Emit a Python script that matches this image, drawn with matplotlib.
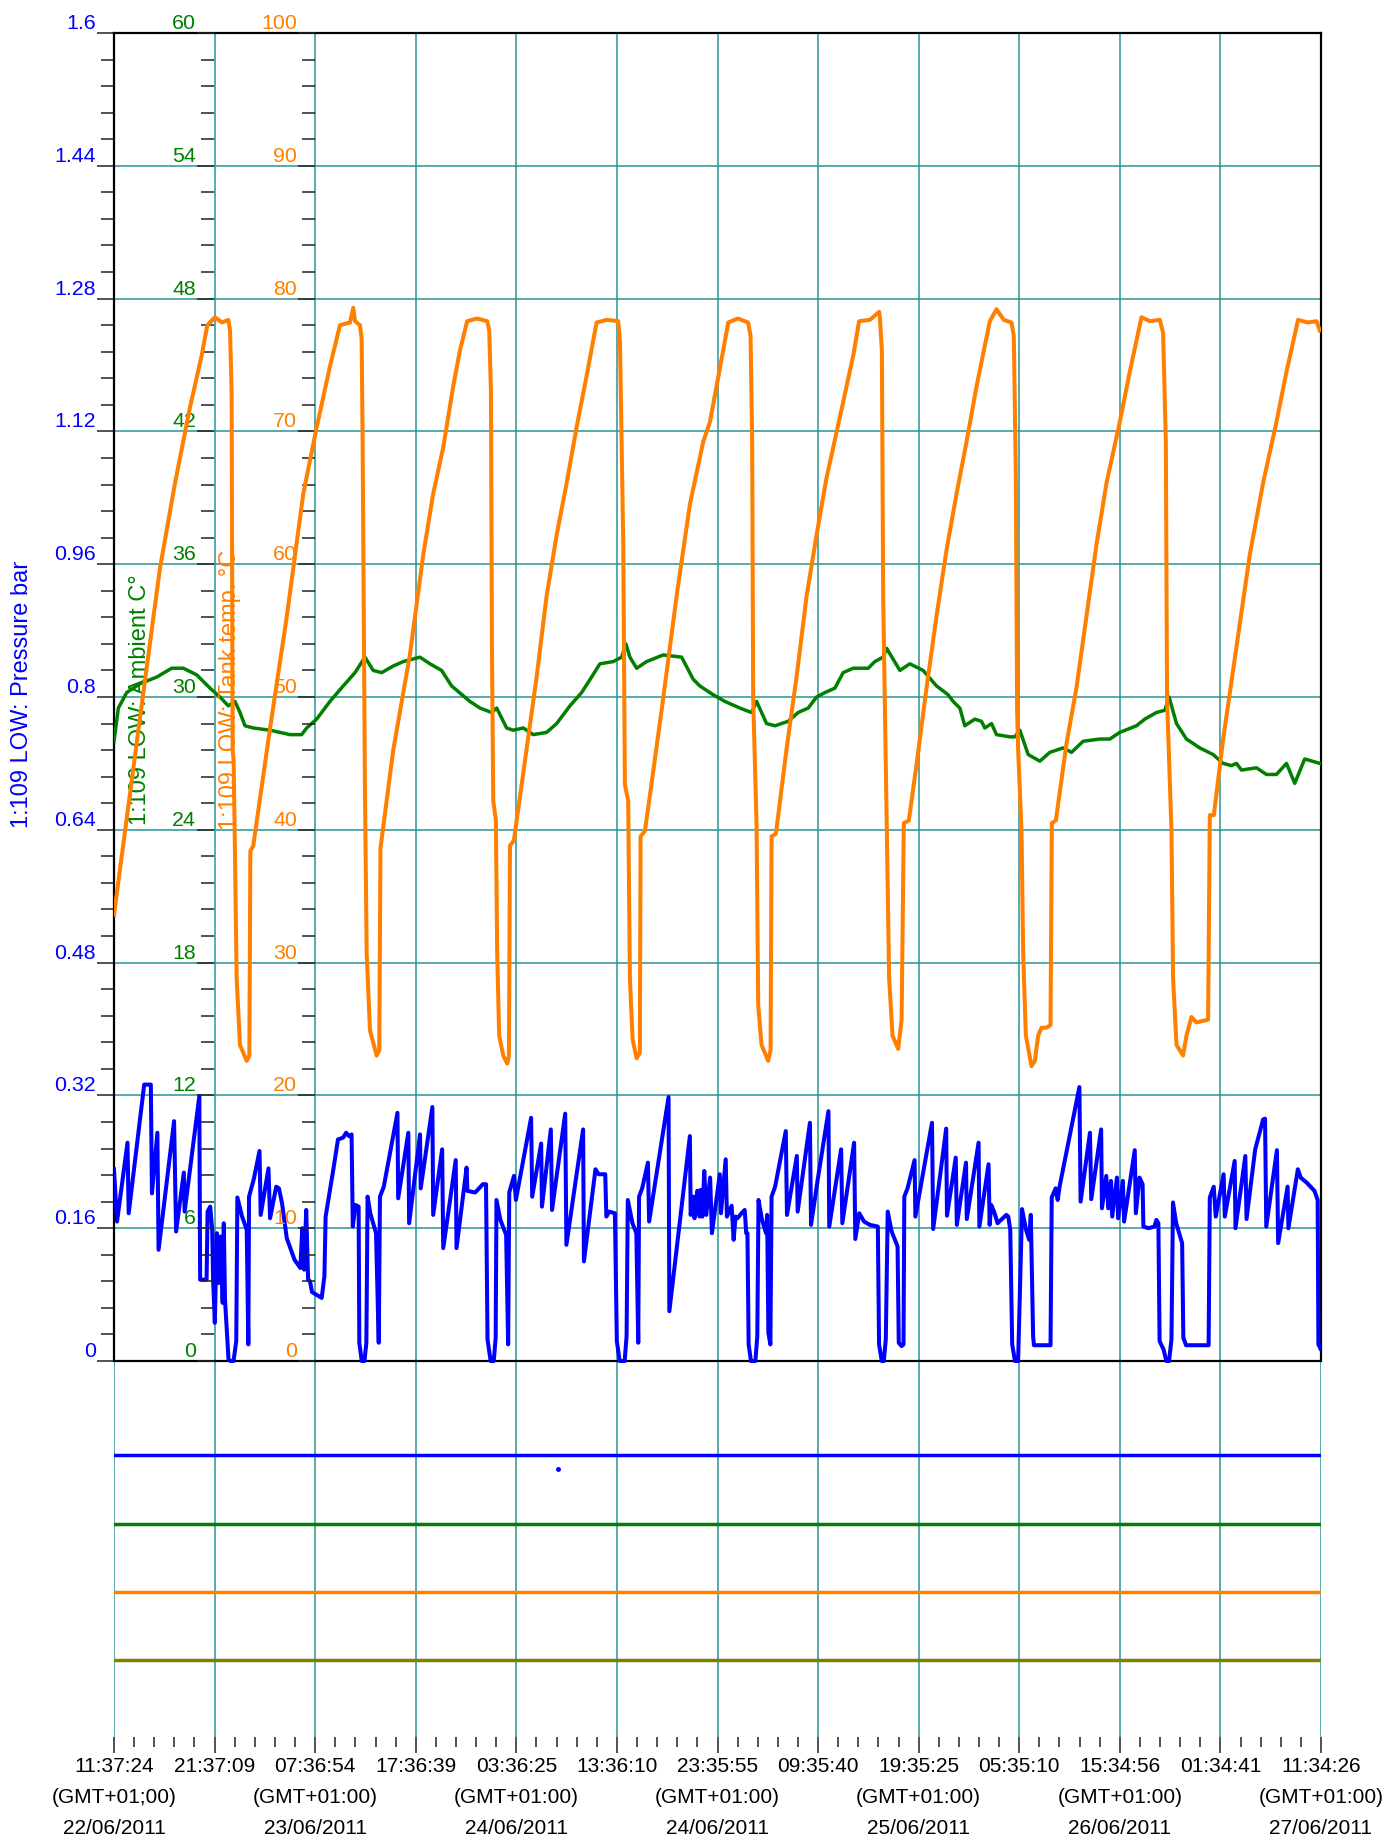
import matplotlib
matplotlib.use('Agg')
import matplotlib.pyplot as plt
from matplotlib.ticker import FixedLocator, MultipleLocator

plt.rcParams['font.family'] = ['Liberation Sans', 'DejaVu Sans']

# ---------------- data (time in hours since 22/06/2011 11:37:24) ----------------
pressure_t = [
    0.00, 0.30, 1.34, 1.46, 3.00, 3.66, 3.77, 4.31, 4.43, 5.97, 6.17, 6.94, 7.02, 8.48, 8.56, 9.20, 9.30, 9.56, 9.76, 9.85, 10.02, 10.22, 10.41, 10.60, 10.80, 10.91, 11.03, 11.38, 11.57, 11.88, 12.15, 12.26,
    12.73, 13.19, 13.35, 13.42, 13.89, 14.46, 14.58, 15.35, 15.51, 16.12, 16.39, 16.70, 17.17, 17.94, 18.52, 18.71, 18.90, 19.10, 19.29, 19.48, 19.68, 20.64, 20.91, 21.03, 21.80, 22.26, 22.76, 23.07, 23.34, 23.61, 23.73, 24.00, 24.31,
    24.38, 24.62, 24.89, 25.08, 25.20, 25.47, 26.04, 26.31, 26.43, 26.81, 28.17, 28.24, 29.25, 29.33, 30.41, 30.48, 31.64, 31.72, 32.61, 32.72, 33.96, 34.04, 35.04, 35.12, 35.89, 36.66, 36.97, 37.12,
    37.43, 37.74, 37.93, 38.01, 38.40, 38.97, 39.17, 39.28, 39.75, 39.94, 41.45, 41.56, 42.45, 42.53, 43.41, 43.53, 44.84, 44.96, 46.62, 46.70, 47.85, 48.16, 48.82, 48.93, 49.20, 49.78, 49.97,
    50.25, 50.75, 50.94, 51.06, 51.52, 51.91, 52.10, 52.18, 52.49, 53.06, 53.18, 55.11, 55.19, 57.23, 57.31, 57.58, 57.69, 57.96, 58.20, 58.28, 58.47, 58.66, 58.86, 59.24,
    59.42, 60.20, 60.32, 60.79, 60.91, 61.38, 61.58, 61.77, 61.97, 62.36, 62.68, 62.83, 62.95, 63.07, 63.30, 63.74, 63.93, 64.05, 64.40, 64.80, 64.91, 65.03, 65.23, 65.35, 65.70, 66.76, 66.88, 67.86, 67.94, 69.16, 69.27, 69.94, 71.00, 71.08,
    72.26, 72.38, 73.55, 73.67, 74.06, 74.54, 75.12, 75.91, 76.03, 76.30, 76.50, 76.70, 76.89, 77.28, 77.87, 77.99, 78.27, 78.46, 78.54, 78.86, 79.56, 79.64, 81.29, 81.41, 82.70, 82.78, 83.65, 83.76, 84.67, 84.75, 85.92, 86.00,
    86.91, 87.02, 87.18, 87.49, 87.81, 88.67, 88.87, 89.07, 89.26, 89.54, 89.85, 90.24, 90.64, 90.95, 91.11, 91.34, 91.42, 93.07, 93.19, 93.58, 93.78, 93.97, 95.94, 96.06, 96.99, 97.12, 98.10, 98.18, 98.61, 98.81, 99.08, 99.20, 99.67, 99.79,
    100.26, 100.38, 101.44, 101.55, 101.91, 102.22, 102.30, 102.81, 103.40, 103.59, 103.79, 103.91, 104.30, 104.58, 104.85, 105.09, 105.24, 105.56, 106.15, 106.27, 106.54, 108.78, 108.90, 109.29, 109.49, 110.27, 110.39, 111.37, 111.45, 112.43, 112.55, 113.41, 114.20, 114.39, 114.51, 115.57, 115.69, 116.63, 116.71, 117.65, 117.93, 118.52, 119.30, 119.62, 119.69, 119.89,
]
pressure_bar = [
    0.231, 0.168, 0.263, 0.178, 0.333, 0.333, 0.202, 0.275, 0.134, 0.289, 0.156, 0.227, 0.180, 0.319, 0.098, 0.098, 0.180, 0.186, 0.158, 0.098, 0.046, 0.154, 0.094, 0.150, 0.070, 0.166, 0.074, 0.002, 0.0, 0.0, 0.024, 0.197,
    0.174, 0.158, 0.020, 0.198, 0.219, 0.253, 0.176, 0.232, 0.172, 0.210, 0.208, 0.190, 0.148, 0.122, 0.112, 0.160, 0.110, 0.182, 0.098, 0.096, 0.083, 0.076, 0.102, 0.174, 0.231, 0.267, 0.269, 0.275, 0.271, 0.273, 0.162, 0.188, 0.186,
    0.022, 0.0, 0.0, 0.022, 0.198, 0.178, 0.154, 0.022, 0.198, 0.210, 0.299, 0.196, 0.275, 0.166, 0.273, 0.208, 0.306, 0.176, 0.255, 0.136, 0.242, 0.136, 0.233, 0.205, 0.203, 0.213, 0.213, 0.026,
    0.0, 0.0, 0.028, 0.194, 0.170, 0.152, 0.020, 0.203, 0.223, 0.194, 0.293, 0.198, 0.262, 0.186, 0.279, 0.182, 0.298, 0.140, 0.279, 0.120, 0.231, 0.225, 0.225, 0.174, 0.180, 0.178, 0.024,
    0.0, 0.0, 0.030, 0.194, 0.166, 0.154, 0.022, 0.198, 0.208, 0.239, 0.168, 0.318, 0.060, 0.271, 0.176, 0.198, 0.172, 0.205, 0.174, 0.206, 0.174, 0.229, 0.176, 0.221,
    0.154, 0.225, 0.178, 0.243, 0.174, 0.187, 0.146, 0.174, 0.172, 0.178, 0.182, 0.154, 0.154, 0.020, 0.0, 0.0, 0.030, 0.194, 0.170, 0.154, 0.176, 0.034, 0.020, 0.198, 0.210, 0.277, 0.176, 0.247, 0.180, 0.287, 0.164, 0.219, 0.301, 0.162,
    0.255, 0.166, 0.263, 0.147, 0.178, 0.168, 0.164, 0.162, 0.020, 0.0, 0.0, 0.026, 0.180, 0.156, 0.138, 0.022, 0.018, 0.020, 0.198, 0.208, 0.242, 0.174, 0.287, 0.159, 0.280, 0.175, 0.245, 0.164, 0.239, 0.171, 0.263, 0.162,
    0.237, 0.164, 0.188, 0.179, 0.166, 0.176, 0.174, 0.158, 0.020, 0.0, 0.0, 0.183, 0.158, 0.146, 0.176, 0.030, 0.019, 0.019, 0.197, 0.208, 0.194, 0.210, 0.330, 0.192, 0.275, 0.195, 0.279, 0.184, 0.223, 0.184, 0.217, 0.174, 0.221, 0.172,
    0.217, 0.168, 0.254, 0.178, 0.221, 0.213, 0.162, 0.160, 0.162, 0.170, 0.166, 0.024, 0.014, 0.0, 0.0, 0.026, 0.191, 0.166, 0.142, 0.028, 0.019, 0.019, 0.197, 0.210, 0.174, 0.225, 0.174, 0.241, 0.160, 0.247, 0.171, 0.255, 0.291, 0.292, 0.162, 0.254, 0.142, 0.210, 0.160, 0.231, 0.221, 0.215, 0.205, 0.194, 0.020, 0.015,
]

ambient_t = [
    0.00, 0.43, 1.26, 2.58, 4.24, 5.73, 6.89, 8.22, 9.54, 10.53, 11.36, 12.02, 12.52, 13.02, 13.84, 15.50, 17.49, 18.65, 19.15, 20.14, 21.46, 22.78, 23.95, 24.94, 25.76, 26.60, 27.75, 28.74, 30.40,
    31.40, 32.56, 33.55, 35.37, 36.37, 37.53, 38.03, 39.02, 39.67, 40.67, 41.66, 42.99, 43.99, 45.31, 46.47, 47.46, 48.29, 49.61, 50.45, 50.87, 51.27, 51.94, 52.93, 54.58, 56.41, 57.56, 58.22, 59.55,
    60.71, 62.20, 63.36, 63.86, 64.85, 65.68, 67.00, 67.99, 68.99, 69.82, 70.65, 71.64, 72.46, 73.46, 74.95, 75.61, 76.44, 76.78, 78.10, 79.09, 80.41, 81.74, 82.90, 83.39, 84.06, 84.55, 85.55, 86.21, 86.54, 87.21, 87.70, 89.03,
    89.52, 90.02, 90.85, 92.01, 93.00, 94.33, 95.16, 96.31, 97.97, 98.96, 99.95, 101.61, 102.44, 103.60, 104.43, 104.85, 105.59, 106.58, 107.90, 109.23, 110.22, 111.05, 111.55, 112.05, 113.54, 114.53, 115.52, 116.52, 117.34, 118.33, 119.83,
]
ambient_c = [
    28.0, 29.5, 30.2, 30.6, 30.9, 31.3, 31.3, 31.0, 30.4, 30.0, 29.6, 29.8, 29.3, 28.7, 28.6, 28.5, 28.3, 28.3, 28.6, 29.0, 29.8, 30.5, 31.1, 31.8, 31.2, 31.1, 31.4, 31.6, 31.8,
    31.5, 31.2, 30.5, 29.8, 29.5, 29.3, 29.5, 28.6, 28.5, 28.6, 28.3, 28.4, 28.8, 29.6, 30.2, 30.9, 31.5, 31.6, 31.8, 32.4, 31.8, 31.3, 31.6, 31.9, 31.8, 30.8, 30.5, 30.1,
    29.8, 29.5, 29.3, 29.8, 28.8, 28.7, 28.9, 29.3, 29.5, 30.0, 30.2, 30.4, 31.1, 31.3, 31.3, 31.6, 31.8, 32.2, 31.2, 31.5, 31.2, 30.5, 30.1, 29.8, 29.5, 28.7, 29.0, 28.9, 28.6, 28.8, 28.3, 28.2,
    28.2, 28.5, 27.4, 27.1, 27.5, 27.7, 27.5, 28.0, 28.1, 28.1, 28.4, 28.7, 29.0, 29.3, 29.4, 30.0, 28.8, 28.1, 27.7, 27.4, 27.0, 26.9, 27.0, 26.7, 26.8, 26.5, 26.5, 27.0, 26.1, 27.2, 27.0,
]

tank_t = [
    0.00, 2.91, 4.57, 6.06, 7.55, 8.71, 9.27, 10.04, 10.73, 11.36, 11.53, 11.69, 11.79, 11.89, 12.02, 12.19, 12.52, 13.19, 13.45, 13.55, 13.84,
    15.50, 17.16, 18.81, 20.14, 21.46, 22.46, 23.45, 23.78, 23.95, 24.44, 24.61, 24.71, 24.94, 25.11, 25.44, 26.10, 26.36, 26.48,
    27.75, 29.41, 30.73, 31.72, 32.72, 33.71, 34.38, 35.10, 36.07, 37.09, 37.29, 37.46, 37.56, 37.69, 37.95, 38.08, 38.28, 38.68, 39.08, 39.25, 39.35, 39.74,
    41.01, 42.00, 42.99, 43.99, 44.98, 45.97, 46.97, 47.96, 48.98, 50.11, 50.28, 50.61, 50.77, 51.10, 51.27, 51.54, 51.94, 52.26, 52.33, 52.76,
    53.26, 54.58, 55.91, 57.23, 58.55, 59.22, 60.54, 61.04, 62.00, 63.02, 63.26, 63.42, 63.52, 63.86, 64.02, 64.35, 65.01, 65.25, 65.35, 65.78,
    66.84, 67.83, 68.83, 69.82, 70.81, 72.46, 73.46, 74.05, 75.12, 76.04, 76.11, 76.31, 76.44, 76.78, 77.03, 77.37, 77.93, 78.27, 78.49, 78.99,
    79.75, 80.75, 81.74, 82.74, 83.73, 84.72, 85.72, 87.04, 87.70, 88.43, 89.19, 89.42, 89.62, 89.75, 89.85, 90.19, 90.35, 90.62, 91.18, 91.51, 91.84, 92.18, 92.67, 93.07, 93.20, 93.60,
    94.66, 95.65, 96.65, 97.64, 98.63, 99.95, 100.95, 102.11, 102.94, 103.93, 104.26, 104.53, 104.65, 105.09, 105.25, 105.59, 106.24, 106.58, 107.08, 107.57, 108.73, 108.90, 109.30,
    110.22, 111.55, 112.87, 114.19, 115.52, 116.52, 117.67, 118.63, 119.50, 119.83,
]
tank_c = [
    33.6, 50.3, 59.7, 66.1, 71.8, 75.7, 78.0, 78.6, 78.2, 78.4, 77.6, 73.0, 46.0, 45.2, 38.4, 28.8, 23.8, 22.6, 23.0, 38.4, 38.8,
    47.6, 56.0, 65.3, 70.3, 74.9, 78.0, 78.2, 79.3, 78.3, 78.0, 77.0, 69.0, 43.0, 30.7, 24.9, 23.0, 23.4, 38.6,
    46.0, 53.2, 60.7, 65.3, 68.8, 73.4, 76.1, 78.3, 78.5, 78.3, 77.6, 73.0, 53.8, 42.2, 40.7, 30.7, 24.5, 23.0, 22.4, 23.0, 38.8, 39.2,
    46.1, 51.5, 57.6, 62.2, 66.1, 70.3, 74.2, 78.2, 78.4, 78.3, 76.8, 61.5, 43.4, 42.2, 28.8, 24.2, 22.8, 23.2, 39.5, 39.9,
    42.6, 49.9, 57.6, 64.5, 69.2, 70.7, 76.1, 78.2, 78.5, 78.2, 77.2, 69.2, 49.9, 40.3, 26.8, 23.8, 22.6, 23.4, 39.5, 39.7,
    46.1, 51.5, 57.6, 62.2, 66.5, 72.2, 75.7, 78.3, 78.4, 79.0, 78.6, 76.1, 57.6, 41.0, 28.8, 24.5, 23.5, 25.7, 40.5, 40.7,
    44.9, 50.7, 56.1, 61.1, 65.3, 69.2, 73.4, 78.3, 79.2, 78.4, 78.2, 77.2, 67.0, 49.0, 46.1, 39.9, 30.7, 24.5, 22.2, 22.6, 24.5, 25.1, 25.1, 25.3, 40.5, 40.7,
    46.5, 50.7, 56.1, 61.5, 66.1, 70.7, 74.5, 78.6, 78.3, 78.4, 77.4, 69.2, 49.9, 39.9, 28.8, 23.8, 23.0, 24.5, 25.9, 25.5, 25.7, 41.1, 41.1,
    46.8, 53.8, 60.7, 66.1, 70.7, 74.5, 78.4, 78.2, 78.3, 77.6,
]

# digital channel lanes below the analogue area (pressure-axis units) and a stray sample
lane_levels = [-0.113, -0.196, -0.278, -0.360]
lane_colors = ['#0000ff', '#007f00', '#ff8000', '#808000']
stray_t = [44.1]
stray_v = [-0.130]

# axis ticks / labels
tick_step_h = 9.99583  # 9 h 59 min 45 s between time labels
time_labels = ["11:37:24", "21:37:09", "07:36:54", "17:36:39", "03:36:25", "13:36:10", "23:35:55",
               "09:35:40", "19:35:25", "05:35:10", "15:34:56", "01:34:41", "11:34:26"]
tz_labels = ["(GMT+01;00)", "", "(GMT+01:00)", "", "(GMT+01:00)", "", "(GMT+01:00)",
             "", "(GMT+01:00)", "", "(GMT+01:00)", "", "(GMT+01:00)"]
date_labels = ["22/06/2011", "", "23/06/2011", "", "24/06/2011", "", "24/06/2011",
               "", "25/06/2011", "", "26/06/2011", "", "27/06/2011"]
pressure_ticks = ["0", "0.16", "0.32", "0.48", "0.64", "0.8", "0.96", "1.12", "1.28", "1.44", "1.6"]
ambient_ticks = ["0", "6", "12", "18", "24", "30", "36", "42", "48", "54", "60"]
tank_ticks = ["0", "10", "20", "30", "40", "50", "60", "70", "80", "90", "100"]

BLUE = '#0000ff'
GREEN = '#007f00'
ORANGE = '#ff8000'
TEAL = '#2a9494'

# ---------------- figure ----------------
W, H = 1386, 1843
fig = plt.figure(figsize=(W / 100, H / 100), dpi=100)
L, R, T, B = 114, 1321, 33, 1737
ax = fig.add_axes([L / W, 1 - B / H, (R - L) / W, (B - T) / H])

p_max = float(pressure_ticks[-1])
px_per_unit = (1361 - T) / p_max
p_min = -(B - 1361) / px_per_unit
frac_low = p_min / p_max
x_max = tick_step_h * (len(time_labels) - 1)

ax.set_xlim(0, x_max)
ax.set_ylim(p_min, p_max)

# secondary axes
axg = ax.twinx()
axo = ax.twinx()
g_max = float(ambient_ticks[-1])
o_max = float(tank_ticks[-1])
axg.set_ylim(frac_low * g_max, g_max)
axo.set_ylim(frac_low * o_max, o_max)

# x axis
ax.set_xticks([i * tick_step_h for i in range(len(time_labels))])
labels = []
for tl, tz, dl in zip(time_labels, tz_labels, date_labels):
    labels.append(tl + ("\n" + tz + "\n" + dl if tz else ""))
ax.set_xticklabels(labels)
ax.xaxis.set_minor_locator(MultipleLocator(tick_step_h / 5))
ax.tick_params(axis='x', which='major', direction='out', length=11.5, width=1.1,
               color='#222222', pad=3, labelsize=15)
ax.tick_params(axis='x', which='minor', direction='out', length=7, width=1.1, color='#222222')
for lbl in ax.get_xticklabels():
    lbl.set_linespacing(1.8)

ax.grid(True, axis='x', which='major', color=TEAL, lw=1.1)
ax.grid(True, axis='y', which='major', color=TEAL, lw=1.1)


def setup_y(a, tick_labels, color, spine_frac):
    if spine_frac is not None:
        a.spines['left'].set_position(('axes', spine_frac))
        for s in a.spines.values():
            s.set_visible(False)
    a.yaxis.set_ticks_position('left')
    majors = [float(s) for s in tick_labels]
    step = majors[1] - majors[0]
    minors = [majors[0] + k * step / 5 for k in range(5 * (len(majors) - 1) + 1) if k % 5]
    a.yaxis.set_major_locator(FixedLocator(majors))
    a.yaxis.set_minor_locator(FixedLocator(minors))
    a.set_yticklabels(tick_labels)
    a.tick_params(axis='y', which='major', direction='out', length=12, width=1.1,
                  color='#222222', pad=1, labelsize=15.4, labelcolor=color,
                  left=True, right=False, labelleft=True, labelright=False)
    a.tick_params(axis='y', which='minor', direction='out', length=9.5, width=1.1,
                  color='#222222', left=True, right=False)
    for lbl in a.get_yticklabels():
        lbl.set_verticalalignment('bottom')


setup_y(ax, pressure_ticks, BLUE, None)
setup_y(axg, ambient_ticks, GREEN, (214 - L) / (R - L))
setup_y(axo, tank_ticks, ORANGE, (315 - L) / (R - L))

# spines of main axes
for s in ['left', 'right', 'top']:
    ax.spines[s].set_color('black')
    ax.spines[s].set_linewidth(1.6)
ax.spines['left'].set_bounds(0, p_max)
ax.spines['right'].set_bounds(0, p_max)
ax.spines['bottom'].set_visible(False)
ax.axhline(0, color='black', lw=1.6, zorder=1.8)

# lanes
for lv, lc in zip(lane_levels, lane_colors):
    ax.axhline(lv, color=lc, lw=2.5, zorder=2)
ax.plot(stray_t, stray_v, 'o', color=BLUE, ms=2.5, zorder=3)

# series
ax.plot(pressure_t, pressure_bar, color=BLUE, lw=2.9, zorder=3)
axg.plot(ambient_t, ambient_c, color=GREEN, lw=2.5, zorder=3)
axo.plot(tank_t, tank_c, color=ORANGE, lw=2.9, zorder=3)


# rotated axis titles
def yfrac(py):
    return (B - py) / (B - T)


def xfrac(px):
    return (px - L) / (R - L)


ax.text(xfrac(22), yfrac(694), "1:109 LOW: Pressure bar", transform=ax.transAxes,
        rotation=90, ha='center', va='center', color=BLUE, fontsize=17)
axg.text(xfrac(140), yfrac(700), "1:109 LOW: Ambient C°", transform=ax.transAxes,
         rotation=90, ha='center', va='center', color=GREEN, fontsize=17)
axo.text(xfrac(230), yfrac(690), "1:109 LOW: Tank temp. °C", transform=ax.transAxes,
         rotation=90, ha='center', va='center', color=ORANGE, fontsize=17)

fig.savefig('out.png', dpi=100, facecolor='white')
